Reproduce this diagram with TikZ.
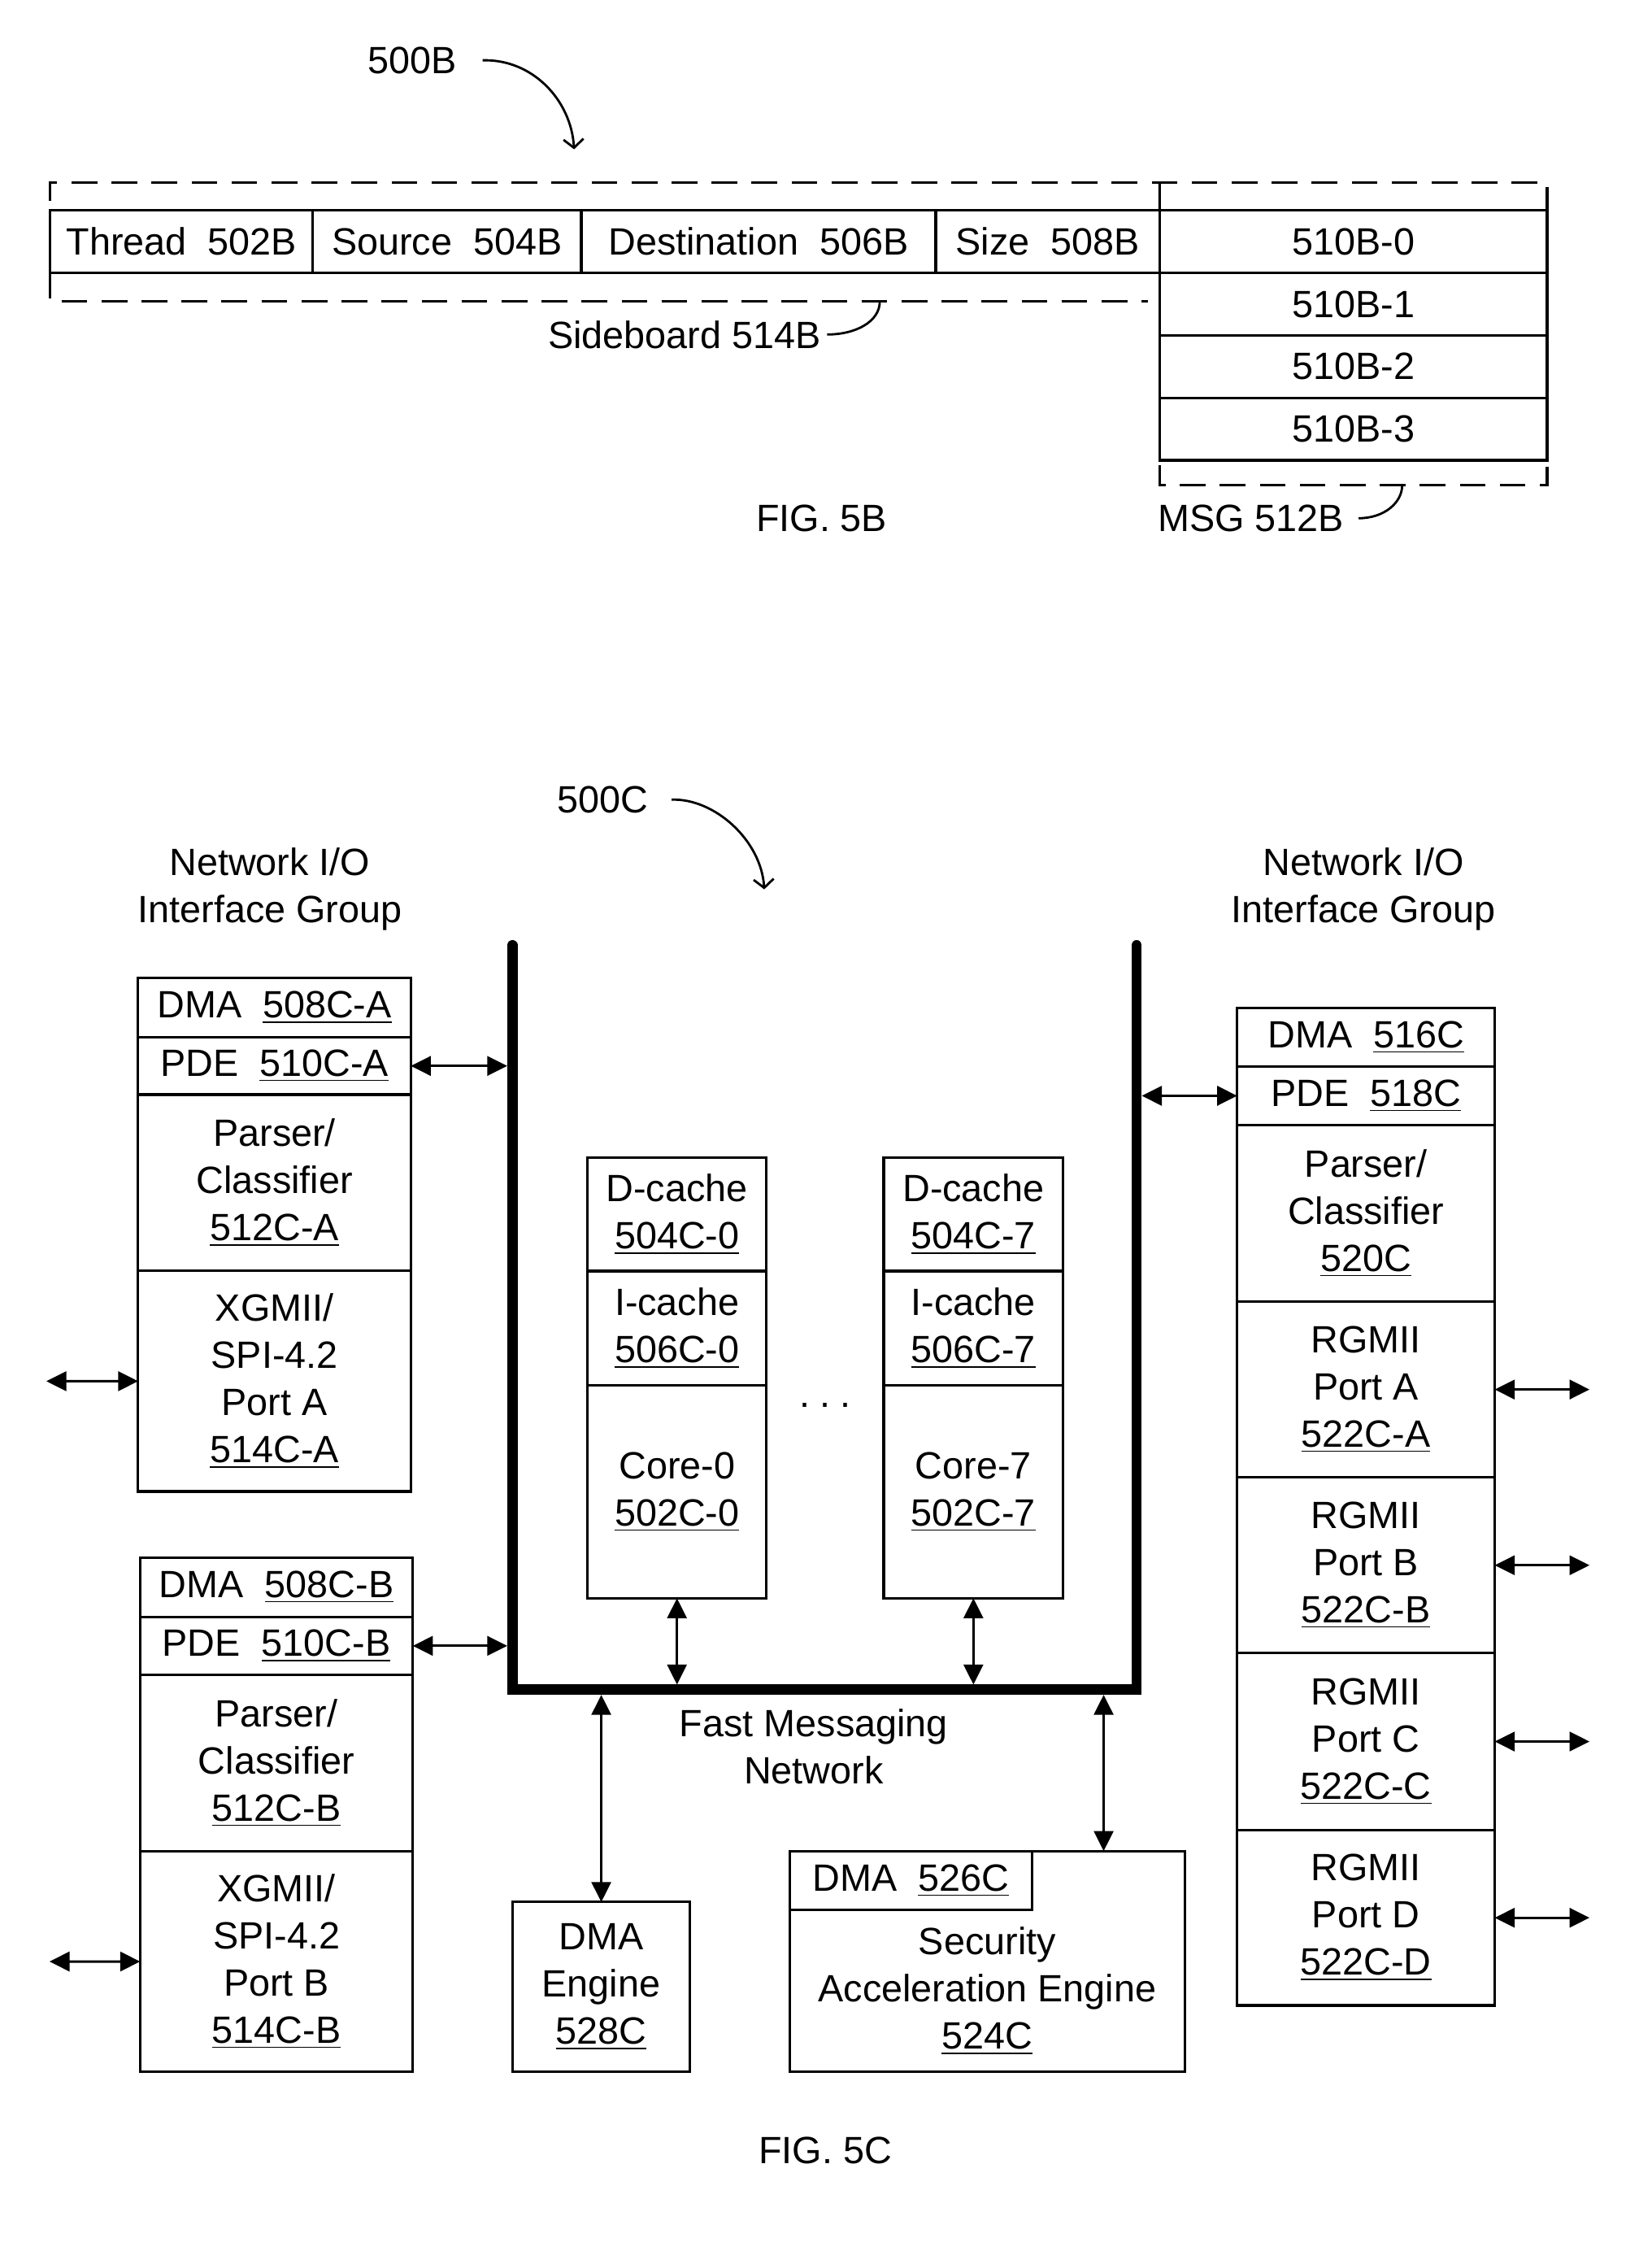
\documentclass[tikz,border=0pt]{standalone}
\usepackage{fontspec}
\setmainfont{Liberation Sans}
\usetikzlibrary{arrows.meta,positioning}
\newcommand{\px}{0.017654cm}
\newcommand{\fs}{\fontsize{13.3}{16.5}\selectfont}

\begin{document}
\begin{tikzpicture}[x=\px,y=-\px,font=\fs,
  cell/.style={draw,line width=0.9pt,inner sep=0pt,outer sep=0pt,align=center},
  sz/.style 2 args={minimum width=#1*\px,minimum height=#2*\px},
  txt/.style={inner sep=1pt,align=center},
  dashline/.style={line width=0.9pt,dash pattern=on 9pt off 5pt},
  bus/.style={line width=3.6pt,line cap=round},
  io/.style={<->,>={Triangle[length=7pt,width=6.8pt]},line width=0.85pt},
  ref/.style={->,>={Straight Barb[length=3pt,width=7pt]},line width=0.8pt},
  lead/.style={line width=0.8pt}]
  \path[use as bounding box,fill=white] (0,0) rectangle (1151,1568);

  \node[txt] (lbl5b) at (287,42) {500B};
  \coordinate (tip5b) at (400,104);
  \node[cell,sz={183}{43.5}] (thread) at (126.5,168.35) {Thread~~502B};
  \node[cell,sz={187}{43.5},right=0pt of thread] (source) {Source~~504B};
  \node[cell,sz={247}{43.5},right=0pt of source] (dest) {Destination~~506B};
  \node[cell,sz={156}{43.5},right=0pt of dest] (size) {Size~~508B};
  \node[cell,sz={270}{43.5},right=0pt of size] (msg0) {510B-0};
  \node[cell,sz={270}{43.5},below=0pt of msg0] (msg1) {510B-1};
  \node[cell,sz={270}{43.5},below=0pt of msg1] (msg2) {510B-2};
  \node[cell,sz={270}{43.5},below=0pt of msg2] (msg3) {510B-3};
  \node[txt] (sblbl) at (477,233) {Sideboard 514B};
  \coordinate (sbend) at (613,210);
  \node[txt] (msglbl) at (871.5,361) {MSG 512B};
  \coordinate (msgend) at (977,338);
  \node[txt] (fig5b) at (572.5,361) {FIG. 5B};

  \draw[dashline] (35,140) -- (35,127) -- (1078,127) -- (1078,338) -- (808,338) -- (808,321);
  \draw[dashline] (35,190) -- (35,210) -- (800,210);
  \draw[line width=0.9pt] (808,127) -- (msg0.north west);
  \draw[ref] ([xshift=8pt]lbl5b.east) .. controls +(35,-1) and +(-2,-34) .. (tip5b);
  \draw[lead] ([xshift=1pt]sblbl.east) .. controls +(20,0) and +(0,14) .. (sbend);
  \draw[lead] ([xshift=4pt]msglbl.east) .. controls +(18,0) and +(0,12) .. (msgend);

  \node[txt] (lbl5c) at (420,557) {500C};
  \coordinate (tip5c) at (532.5,619.5);
  \node[txt] (grpL) at (188,619.5) {Network I/O\\Interface Group};
  \node[txt] (grpR) at (950,619.5) {Network I/O\\Interface Group};

  \node[cell,sz={190}{41.3}] (dmaA) at (191.25,701.85) {DMA~~\underline{508C-A}};
  \node[cell,sz={190}{40},below=0pt of dmaA] (pdeA) {PDE~~\underline{510C-A}};
  \node[cell,sz={190}{122.8},below=0pt of pdeA] (parA) {Parser/\\Classifier\\\underline{512C-A}};
  \node[cell,sz={190}{153.6},below=0pt of parA] (xgA) {XGMII/\\SPI-4.2\\Port A\\\underline{514C-A}};

  \node[cell,sz={190}{41.1}] (dmaB) at (192.65,1105.65) {DMA~~\underline{508C-B}};
  \node[cell,sz={190}{40.5},below=0pt of dmaB] (pdeB) {PDE~~\underline{510C-B}};
  \node[cell,sz={190}{122.7},below=0pt of pdeB] (parB) {Parser/\\Classifier\\\underline{512C-B}};
  \node[cell,sz={190}{153.9},below=0pt of parB] (xgB) {XGMII/\\SPI-4.2\\Port B\\\underline{514C-B}};

  \node[cell,sz={179.5}{40.7}] (dmaR) at (951.75,722.65) {DMA~~\underline{516C}};
  \node[cell,sz={179.5}{40.6},below=0pt of dmaR] (pdeR) {PDE~~\underline{518C}};
  \node[cell,sz={179.5}{123},below=0pt of pdeR] (parR) {Parser/\\Classifier\\\underline{520C}};
  \node[cell,sz={179.5}{122.6},below=0pt of parR] (rgA) {RGMII\\Port A\\\underline{522C-A}};
  \node[cell,sz={179.5}{122.2},below=0pt of rgA] (rgB) {RGMII\\Port B\\\underline{522C-B}};
  \node[cell,sz={179.5}{123.4},below=0pt of rgB] (rgC) {RGMII\\Port C\\\underline{522C-C}};
  \node[cell,sz={179.5}{122.1},below=0pt of rgC] (rgD) {RGMII\\Port D\\\underline{522C-D}};

  \node[cell,sz={124.8}{79}] (dc0) at (471.7,845.9) {D-cache\\\underline{504C-0}};
  \node[cell,sz={124.8}{79.7},below=0pt of dc0] (ic0) {I-cache\\\underline{506C-0}};
  \node[cell,sz={124.8}{148.2},below=0pt of ic0] (co0) {Core-0\\\underline{502C-0}};
  \node[cell,sz={125}{79}] (dc7) at (678.25,845.9) {D-cache\\\underline{504C-7}};
  \node[cell,sz={125}{79.7},below=0pt of dc7] (ic7) {I-cache\\\underline{506C-7}};
  \node[cell,sz={125}{148.2},below=0pt of ic7] (co7) {Core-7\\\underline{502C-7}};
  \node (dots) at (575,979) {.\hspace{3.3pt}.\hspace{3.3pt}.};

  \node[txt] (fmn) at (567,1216.5) {Fast Messaging\\Network};
  \node[cell,sz={123.3}{118.4}] (dmaeng) at (418.95,1384.1) {DMA\\Engine\\\underline{528C}};
  \node[cell,sz={275.2}{153.9}] (sec) at (687.9,1366.35) {};
  \node[cell,sz={168.7}{41.1},anchor=north west] (secdma) at (sec.north west) {DMA~~\underline{526C}};
  \node[txt] (sectext) at (687.9,1386.9) {Security\\Acceleration Engine\\\underline{524C}};
  \node[txt] (fig5c) at (575,1498) {FIG. 5C};

  \coordinate (busTL) at (357,658.4);
  \coordinate (busBL) at (357,1177);
  \coordinate (busBR) at (792,1177);
  \coordinate (busTR) at (792,658.4);
  \coordinate (extA) at (32.3,962.1);
  \coordinate (extB) at (34.5,1366.35);
  \path (rgA.east) ++(66,0) coordinate (extRA);
  \path (rgB.east) ++(66,0) coordinate (extRB);
  \path (rgC.east) ++(66,0) coordinate (extRC);
  \path (rgD.east) ++(66,0) coordinate (extRD);
  \path (sec.north east) ++(-56.5,0) coordinate (secport);

  \draw[bus] (busTL) -- (busBL) -- (busBR) -- (busTR);
  \draw[ref] ([xshift=7pt]lbl5c.east) .. controls +(30,-1) and +(-2,-34) .. (tip5c);

  \path[io]
    (extA) edge (xgA)
    (extB) edge (xgB)
    (rgA) edge (extRA)
    (rgB) edge (extRB)
    (rgC) edge (extRC)
    (rgD) edge (extRD);
  \path[io,shorten >=1.8pt]
    (pdeA) edge (busTL |- pdeA.east)
    (pdeB) edge (busTL |- pdeB.east)
    (pdeR) edge (busTR |- pdeR.west)
    (co0) edge (co0.south |- busBL)
    (co7) edge (co7.south |- busBL)
    (dmaeng) edge (dmaeng.north |- busBL)
    (secport) edge (secport |- busBL);
\end{tikzpicture}
\end{document}
